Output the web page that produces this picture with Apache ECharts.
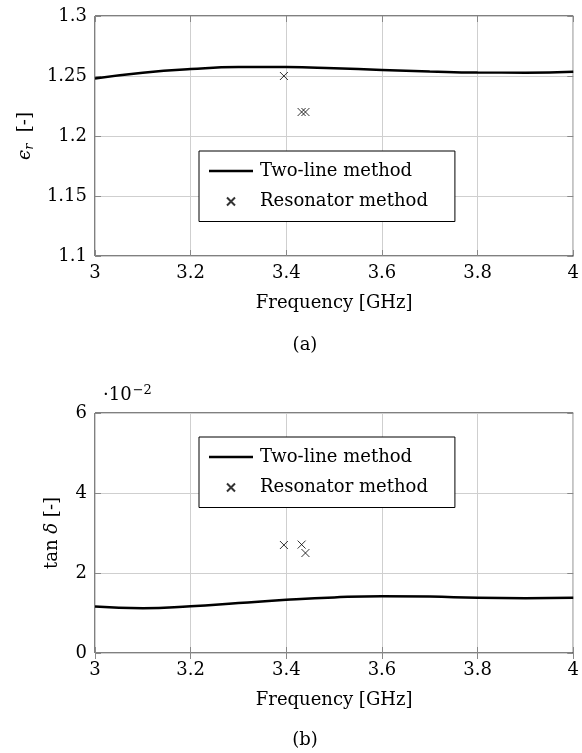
<!DOCTYPE html>
<html>
<head>
<meta charset="utf-8">
<script src="https://cdn.jsdelivr.net/npm/echarts@6/dist/echarts.min.js"></script>
<style>
  html, body { margin: 0; padding: 0; background: #fff; }
  #chart { width: 582px; height: 753px; }
</style>
</head>
<body>
<div id="chart"></div>
<script>
// frequency samples [GHz]
var freq = [3.0, 3.1, 3.2, 3.3, 3.4, 3.5, 3.6, 3.7, 3.8, 3.9, 4.0]
// two-line method
var epsTwoLine = [1.2480, 1.2528, 1.2558, 1.2574, 1.2574, 1.2565, 1.2551, 1.2538, 1.2529, 1.2528, 1.2535]
var tanTwoLine = [1.16, 1.12, 1.17, 1.25, 1.33, 1.39, 1.42, 1.41, 1.38, 1.37, 1.38] // x 1e-2
// resonator method
var resFreq = [3.395, 3.432, 3.44]
var epsRes = [1.25, 1.22, 1.22]
var tanRes = [2.7, 2.71, 2.5] // x 1e-2

var FONT = 'DejaVu Serif'
// the extra moveTo points pad the bounding box so the cross stays small
var CROSS = 'path://M0 0M20 20M6 6L14 14M14 6L6 14'
var BAR = 'path://M0 0M44 20M0 8.8L44 8.8L44 11.2L0 11.2Z'

function pairs(xs, ys) {
  return xs.map(function (x, i) { return [x, ys[i]] })
}

function xAxes(grid) {
  var base = {
    type: 'value', gridIndex: grid, min: 3, max: 4, interval: 0.2,
    axisLine: { show: false },
    axisTick: { show: true, inside: true, length: 6, lineStyle: { color: '#888' } },
    splitLine: { show: false }
  }
  return [
    Object.assign({}, base, {
      position: 'bottom',
      name: 'Frequency [GHz]', nameLocation: 'middle', nameGap: 38,
      nameTextStyle: { fontFamily: FONT, fontSize: 18, color: '#000' },
      splitLine: { show: true, lineStyle: { color: '#cfcfcf' } },
      axisLabel: {
        fontFamily: FONT, fontSize: 18, color: '#000', margin: 8,
        formatter: function (v) { return String(+v.toFixed(1)) }
      }
    }),
    Object.assign({}, base, { position: 'top', axisLabel: { show: false } })
  ]
}

function yAxes(grid, min, max, step, name, gap, dec) {
  var base = {
    type: 'value', gridIndex: grid, min: min, max: max, interval: step,
    axisLine: { show: false },
    axisTick: { show: true, inside: true, length: 6, lineStyle: { color: '#888' } },
    splitLine: { show: false }
  }
  return [
    Object.assign({}, base, {
      position: 'left',
      name: name, nameLocation: 'middle', nameGap: gap, nameRotate: 90,
      nameTextStyle: {
        fontFamily: FONT, fontSize: 18, color: '#000',
        rich: {
          i: { fontFamily: FONT, fontSize: 18, fontStyle: 'italic', color: '#000' },
          s: { fontFamily: FONT, fontSize: 13, fontStyle: 'italic', color: '#000', padding: [8, 0, 0, 0] }
        }
      },
      splitLine: { show: true, lineStyle: { color: '#cfcfcf' } },
      axisLabel: {
        fontFamily: FONT, fontSize: 18, color: '#000', margin: 8,
        formatter: function (v) { return String(+v.toFixed(dec)) }
      }
    }),
    Object.assign({}, base, { position: 'right', axisLabel: { show: false } })
  ]
}

function legend(top) {
  return {
    left: 199, top: top,
    orient: 'vertical',
    backgroundColor: '#fff',
    borderColor: '#000', borderWidth: 1, borderRadius: 0,
    padding: [10, 27, 9, 10],
    itemWidth: 44, itemHeight: 20, itemGap: 9.5,
    textStyle: { fontFamily: FONT, fontSize: 18, color: '#000', padding: [0, 0, 0, 2] },
    data: [
      { name: 'Two-line method', icon: BAR },
      { name: 'Resonator method', icon: CROSS }
    ]
  }
}

var chart = echarts.init(document.getElementById('chart'), null, { renderer: 'canvas' })

var option = {
  animation: false,
  backgroundColor: '#fff',
  grid: [
    { left: 95, top: 16, width: 482, height: 240, show: true, borderColor: '#000', borderWidth: 1, backgroundColor: 'transparent' },
    { left: 95, top: 413, width: 482, height: 240, show: true, borderColor: '#000', borderWidth: 1, backgroundColor: 'transparent' }
  ],
  xAxis: xAxes(0).concat(xAxes(1)),
  yAxis: yAxes(0, 1.1, 1.3, 0.05, '{i|ϵ}{s|r}  [-]', 59, 2)
    .concat(yAxes(1, 0, 6, 2, 'tan {i|δ} [-]', 34, 0)),
  legend: [legend(151), legend(437)],
  series: [
    {
      name: 'Two-line method', type: 'line', xAxisIndex: 0, yAxisIndex: 0,
      data: pairs(freq, epsTwoLine), smooth: true, symbol: 'none',
      lineStyle: { color: '#000', width: 2.5 }, itemStyle: { color: '#000' }
    },
    {
      name: 'Resonator method', type: 'scatter', xAxisIndex: 0, yAxisIndex: 0,
      data: pairs(resFreq, epsRes), symbol: CROSS, symbolSize: 20,
      itemStyle: { color: '#000', borderColor: '#000', borderWidth: 1 }
    },
    {
      name: 'Two-line method', type: 'line', xAxisIndex: 2, yAxisIndex: 2,
      data: pairs(freq, tanTwoLine), smooth: true, symbol: 'none',
      lineStyle: { color: '#000', width: 2.5 }, itemStyle: { color: '#000' }
    },
    {
      name: 'Resonator method', type: 'scatter', xAxisIndex: 2, yAxisIndex: 2,
      data: pairs(resFreq, tanRes), symbol: CROSS, symbolSize: 20,
      itemStyle: { color: '#000', borderColor: '#000', borderWidth: 1 }
    }
  ],
  graphic: [
    {
      type: 'text', left: 103, top: 384,
      style: {
        text: '{a|·10}{b|−2}',
        rich: {
          a: { fontFamily: FONT, fontSize: 18, fill: '#000' },
          b: { fontFamily: FONT, fontSize: 13, fill: '#000', padding: [0, 0, 10, 1] }
        }
      }
    },
    { type: 'text', x: 305, y: 345, style: { text: '(a)', fontFamily: FONT, fontSize: 18, fill: '#000', align: 'center', verticalAlign: 'middle' } },
    { type: 'text', x: 305, y: 740, style: { text: '(b)', fontFamily: FONT, fontSize: 18, fill: '#000', align: 'center', verticalAlign: 'middle' } }
  ]
}

chart.setOption(option)
</script>
</body>
</html>
